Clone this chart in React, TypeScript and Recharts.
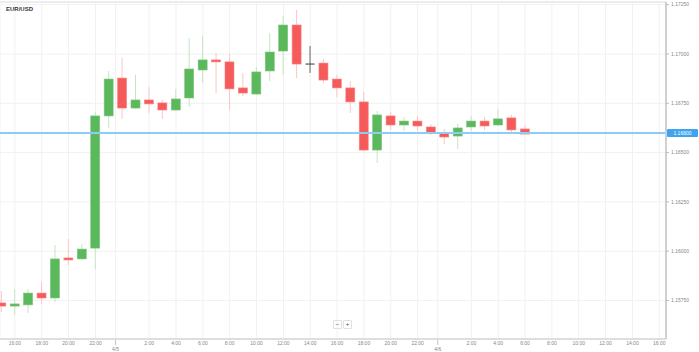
import { ComposedChart, Bar, XAxis, YAxis, CartesianGrid, ReferenceLine } from 'recharts';

// hourly EUR/USD candles, 15:00 (4/4) -> 06:00 (4/6)
const opens = [1.15738, 1.15722, 1.15728, 1.15788, 1.15763, 1.15966, 1.15961, 1.16016, 1.16686, 1.16878, 1.16726, 1.16767, 1.16752, 1.16716, 1.16777, 1.16919, 1.16970, 1.16960, 1.16828, 1.16797, 1.16914, 1.17015, 1.17147, 1.16949, 1.16954, 1.16873, 1.16828, 1.16757, 1.16513, 1.16686, 1.16640, 1.16660, 1.16630, 1.16600, 1.16584, 1.16630, 1.16660, 1.16640, 1.16676, 1.16620];
const highs = [1.15798, 1.15809, 1.15809, 1.15844, 1.16032, 1.16062, 1.16037, 1.16706, 1.16914, 1.16980, 1.16894, 1.16833, 1.16767, 1.16823, 1.17081, 1.17091, 1.17005, 1.17000, 1.16904, 1.16934, 1.17107, 1.17193, 1.17223, 1.17041, 1.16975, 1.16894, 1.16863, 1.16807, 1.16711, 1.16706, 1.16681, 1.16686, 1.16645, 1.16620, 1.16645, 1.16686, 1.16681, 1.16721, 1.16691, 1.16640];
const lows = [1.15692, 1.15677, 1.15687, 1.15733, 1.15743, 1.15930, 1.15956, 1.15910, 1.16625, 1.16671, 1.16721, 1.16701, 1.16671, 1.16711, 1.16731, 1.16853, 1.16802, 1.16716, 1.16787, 1.16792, 1.16863, 1.16894, 1.16878, 1.16904, 1.16853, 1.16782, 1.16701, 1.16508, 1.16447, 1.16615, 1.16610, 1.16610, 1.16589, 1.16544, 1.16518, 1.16610, 1.16615, 1.16635, 1.16594, 1.16594];
const closes = [1.15722, 1.15733, 1.15788, 1.15763, 1.15961, 1.15956, 1.16011, 1.16686, 1.16873, 1.16726, 1.16767, 1.16747, 1.16716, 1.16772, 1.16924, 1.16970, 1.16960, 1.16823, 1.16802, 1.16909, 1.17010, 1.17147, 1.16949, 1.16946, 1.16868, 1.16828, 1.16757, 1.16513, 1.16691, 1.16640, 1.16660, 1.16635, 1.16600, 1.16579, 1.16625, 1.16660, 1.16635, 1.16671, 1.16615, 1.16594];

const currentPrice = 1.166;

const xTicks = [1, 3, 5, 7, 8.5, 11, 13, 15, 17, 19, 21, 23, 25, 27, 29, 31, 32.5, 35, 37, 39, 41, 43, 45, 47, 49];
const xTickLabels = ['16:00', '18:00', '20:00', '22:00', '4/5', '2:00', '4:00', '6:00', '8:00', '10:00', '12:00', '14:00', '16:00', '18:00', '20:00', '22:00', '4/6', '2:00', '4:00', '6:00', '8:00', '10:00', '12:00', '14:00', '16:00'];
const yTicks = [1.1575, 1.16, 1.1625, 1.165, 1.1675, 1.17, 1.1725];

const data = opens.map((o, i) => ({ i, o, h: highs[i], l: lows[i], c: closes[i] }));

const GREEN = '#5cb85c';
const RED = '#f65b5b';

const Candle = (props: any) => {
  const { x, y, width, height, payload } = props;
  const top = Math.min(y, y + height);
  const span = Math.abs(height);
  const { o, h, l, c } = payload;
  const py = (v: number) => top + ((h - v) / (h - l)) * span;
  const cx = x + width / 2;
  const doji = Math.abs(c - o) < 0.00005;
  const up = c > o;
  if (doji) {
    return (
      <g>
        <line x1={cx} x2={cx} y1={top} y2={top + span} stroke="#666" strokeWidth={1} />
        <line x1={x} x2={x + width} y1={py(o)} y2={py(o)} stroke="#555" strokeWidth={1.2} />
      </g>
    );
  }
  const bt = py(Math.max(o, c));
  const bb = py(Math.min(o, c));
  const bh = Math.max(bb - bt, 2);
  return (
    <g>
      <line x1={cx} x2={cx} y1={top} y2={top + span} stroke={up ? '#c6e5c2' : '#fbc6c6'} strokeWidth={1} />
      <rect x={x} y={bt} width={width} height={bh} fill={up ? GREEN : RED} stroke={up ? '#7cc67a' : '#f88484'} strokeWidth={0.6} />
    </g>
  );
};

const XTick = (props: any) => {
  const { x, y, payload } = props;
  const idx = xTicks.indexOf(payload.value);
  const label = xTickLabels[idx];
  if (label && label.includes('/')) {
    return (
      <g>
        <line x1={x} x2={x} y1={y + 1} y2={y + 6} stroke="#999" strokeWidth={0.6} />
        <text x={x} y={y + 12} textAnchor="middle" fontSize={5} fill="#888">{label}</text>
      </g>
    );
  }
  return (
    <text x={x} y={y + 6} textAnchor="middle" fontSize={5} fill="#888">{label}</text>
  );
};

const PriceLabel = (props: any) => {
  const { viewBox } = props;
  const bx = viewBox.x + viewBox.width + 1;
  return (
    <g>
      <rect x={bx} y={viewBox.y - 4} width={31} height={8} rx={1} fill="#3fa3f0" />
      <text x={bx + 15.5} y={viewBox.y + 2} textAnchor="middle" fontSize={5} fill="#fff">{currentPrice.toFixed(5)}</text>
    </g>
  );
};

export default function App() {
  return (
    <div style={{ position: 'absolute', left: 0, top: 0, width: 699, height: 352, background: '#fff', fontFamily: 'Arial, "Liberation Sans", sans-serif' }}>
      <ComposedChart width={699} height={352} data={data} margin={{ top: 2, right: 0, bottom: 0, left: 0 }}>
        <CartesianGrid stroke="#f1f1f1" strokeWidth={1} />
        <XAxis
          dataKey="i"
          type="number"
          domain={[-0.11, 49.5]}
          ticks={xTicks}
          interval={0}
          height={13}
          tick={<XTick />}
          tickLine={false}
          tickSize={0}
          tickMargin={0}
          axisLine={{ stroke: '#d6d6d6', strokeWidth: 1.5 }}
          allowDataOverflow
        />
        <YAxis
          orientation="right"
          type="number"
          domain={[1.155551, 1.172636]}
          ticks={yTicks}
          width={33}
          allowDataOverflow
          tickFormatter={(v: number) => v.toFixed(5)}
          tick={{ fontSize: 5, fill: '#888' }}
          tickSize={3}
          tickLine={{ stroke: '#bbb' }}
          axisLine={{ stroke: '#d0d0d0', strokeWidth: 2 }}
        />
        <ReferenceLine y={1.172636} stroke="#e2e2e2" strokeWidth={1} />
        <Bar dataKey={(d: any) => [d.l, d.h]} barSize={9} shape={<Candle />} isAnimationActive={false} />
        <ReferenceLine y={currentPrice} stroke="#8ccdf6" strokeWidth={2} label={<PriceLabel />} />
      </ComposedChart>
      <div style={{ position: 'absolute', left: 6, top: 6, fontSize: 6, fontWeight: 'bold', color: '#333' }}>EUR/USD</div>
      <div style={{ position: 'absolute', left: 333, top: 320, display: 'flex', gap: 1 }}>
        {['−', '+'].map((s) => (
          <div key={s} style={{ width: 7, height: 7, border: '1px solid #e0e0e0', borderRadius: 1, fontSize: 6, lineHeight: '7px', textAlign: 'center', color: '#444' }}>{s}</div>
        ))}
      </div>
    </div>
  );
}
